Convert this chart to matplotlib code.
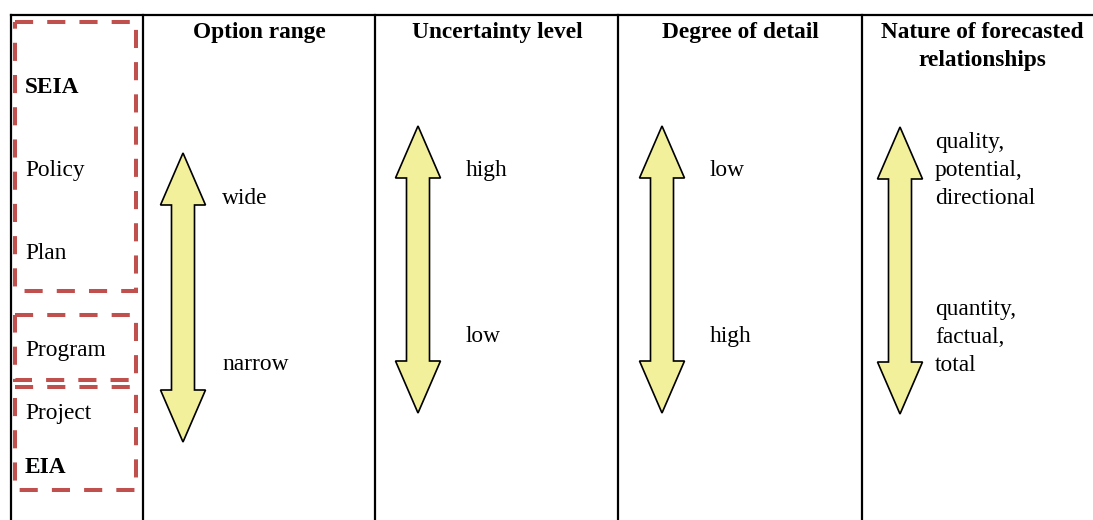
import matplotlib.pyplot as plt
from matplotlib.patches import Polygon, Rectangle

# table content
headers = ["Option range", "Uncertainty level", "Degree of detail",
           "Nature of forecasted\nrelationships"]
top_labels = ["wide", "high", "low", "quality,\npotential,\ndirectional"]
bottom_labels = ["narrow", "low", "high", "quantity,\nfactual,\ntotal"]
level_labels = ["SEIA", "Policy", "Plan", "Program", "Project", "EIA"]
level_bold = [True, False, False, False, False, True]

# layout (pixel coordinates, y going down)
W, H = 1093, 520
col_lines = [11, 143, 375, 618, 862]
header_x = [259, 497, 740, 982]
arrow_x = [183, 418, 662, 900]
arrow_top = [153, 126, 126, 127]
arrow_bot = [442, 413, 413, 414]
label_x = [222, 466, 710, 935]
top_base = [204, 176, 176, 148]
bot_base = [370, 342, 342, 315]
level_base = [93, 176, 259, 356, 419, 473]
boxes = [(15, 22, 136, 291), (15, 315, 136, 380), (15, 387, 136, 490)]

plt.rcParams['font.family'] = ['Liberation Serif', 'DejaVu Serif']
FS = 16.8
LINE = 28

fig = plt.figure(figsize=(W / 100, H / 100), dpi=100)
ax = fig.add_axes([0, 0, 1, 1])
ax.set_xlim(0, W)
ax.set_ylim(H, 0)
ax.axis('off')

# table frame
ax.plot([col_lines[0], W], [15, 15], color='black', lw=1.6, solid_capstyle='projecting')
for x in col_lines:
    ax.plot([x, x], [15, H], color='black', lw=1.6)

# headers
for x, h in zip(header_x, headers):
    for k, line in enumerate(h.split("\n")):
        ax.text(x, 38 + k * LINE, line, ha='center', va='baseline',
                fontsize=FS, fontweight='bold')

# dashed boxes around levels
for x0, y0, x1, y1 in boxes:
    ax.add_patch(Rectangle((x0, y0), x1 - x0, y1 - y0, fill=False,
                           edgecolor='#C0504D', lw=2.9, linestyle=(0, (4.5, 3.5))))

for y, lab, b in zip(level_base, level_labels, level_bold):
    ax.text(25, y, lab, ha='left', va='baseline', fontsize=FS,
            fontweight='bold' if b else 'normal')

# double-headed block arrows
def double_arrow(cx, yt, yb, hw=22.5, sw=11.5, hl=52):
    pts = [(cx, yt), (cx + hw, yt + hl), (cx + sw, yt + hl), (cx + sw, yb - hl),
           (cx + hw, yb - hl), (cx, yb), (cx - hw, yb - hl), (cx - sw, yb - hl),
           (cx - sw, yt + hl), (cx - hw, yt + hl)]
    ax.add_patch(Polygon(pts, closed=True, facecolor='#F3F09C',
                         edgecolor='black', lw=1.2, joinstyle='miter'))

for i in range(4):
    double_arrow(arrow_x[i], arrow_top[i], arrow_bot[i])
    for k, line in enumerate(top_labels[i].split("\n")):
        ax.text(label_x[i], top_base[i] + k * LINE, line, ha='left',
                va='baseline', fontsize=FS)
    for k, line in enumerate(bottom_labels[i].split("\n")):
        ax.text(label_x[i], bot_base[i] + k * LINE, line, ha='left',
                va='baseline', fontsize=FS)

fig.savefig("out.png", dpi=100)
